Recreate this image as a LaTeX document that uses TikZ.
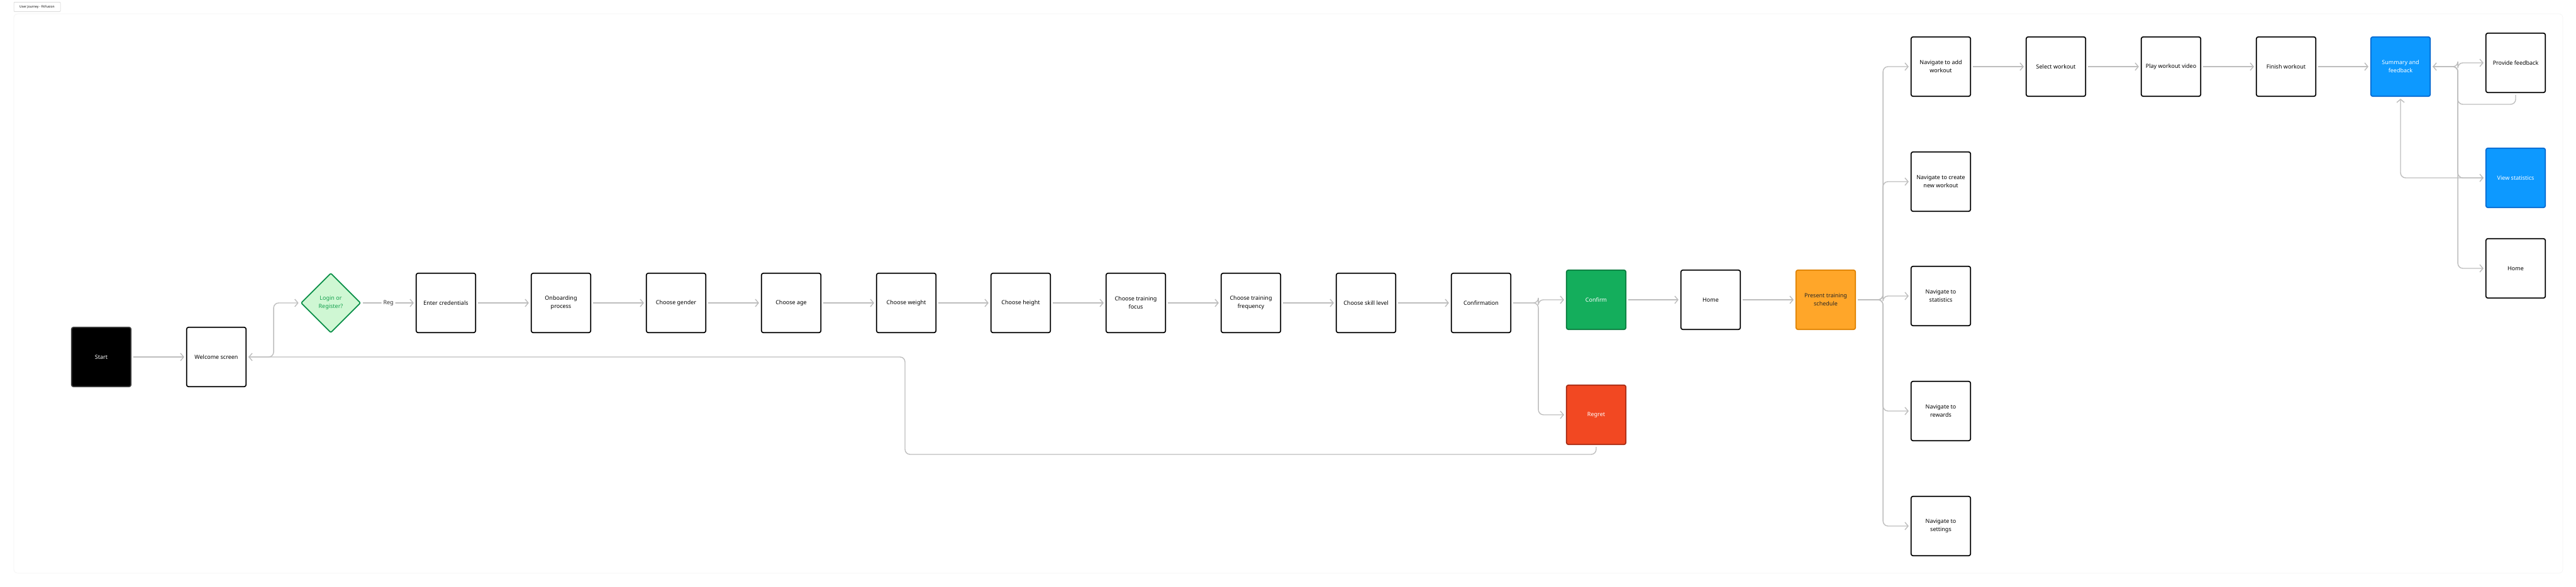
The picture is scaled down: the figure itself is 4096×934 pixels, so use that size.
\documentclass[tikz,border=0pt]{standalone}
\usepackage{fontspec}
\setmainfont{Noto Sans}
\usetikzlibrary{shapes.geometric,arrows.meta}

\definecolor{linegray}{HTML}{BDBDBD}
\definecolor{framegray}{HTML}{F2F2F2}
\definecolor{tagline}{HTML}{C8C8C8}
\definecolor{greenfill}{HTML}{14AE5C}
\definecolor{greenline}{HTML}{0B7A3E}
\definecolor{redfill}{HTML}{F24822}
\definecolor{redline}{HTML}{A52B14}
\definecolor{orangefill}{HTML}{FFA629}
\definecolor{orangeline}{HTML}{DD8000}
\definecolor{bluefill}{HTML}{0D99FF}
\definecolor{blueline}{HTML}{0768CF}
\definecolor{decfill}{HTML}{CFF7D3}
\definecolor{decline}{HTML}{0A8F48}
\definecolor{dectext}{HTML}{14A04E}

\begin{document}
\begin{tikzpicture}[x=1pt, y=-1pt,
    every node/.style={font=\fontsize{9}{13}\selectfont, align=center},
    box/.style={draw=black, fill=white, line width=1.7pt, rounded corners=3pt,
        minimum width=94.5pt, minimum height=94.5pt, inner sep=0pt},
    startbox/.style={box, fill=black, draw=black!75, text=white},
    greenbox/.style={box, fill=greenfill, draw=greenline, text=white},
    redbox/.style={box, fill=redfill, draw=redline, text=white},
    orangebox/.style={box, fill=orangefill, draw=orangeline, text=black!85},
    bluebox/.style={box, fill=bluefill, draw=blueline, text=white},
    decision/.style={diamond, draw=decline, fill=decfill, text=dectext, line width=1.7pt,
        rounded corners=2pt, minimum width=95pt, minimum height=95pt, inner sep=0pt, aspect=1},
    link/.style={draw=linegray, line width=1.4pt, rounded corners=8pt,
        -{Straight Barb[length=5pt,width=12pt]}, shorten >=3pt, shorten <=3pt},
    linktext/.style={fill=white, text=black!80, inner sep=3pt}]

    \useasboundingbox (0,0) rectangle (4096,934);
    \draw[framegray, line width=0.6pt, rounded corners=6pt] (22,22) rectangle (4075,912);
    \node[draw=tagline, line width=0.5pt, rounded corners=1pt, font=\fontsize{5}{6}\selectfont,
        minimum width=74pt, minimum height=15pt, inner sep=0pt] (TAG) at (59,11) {User Journey - FitFusion};

    \node[startbox] (START) at (161,568) {Start};
    \node[box] (WELCOME) at (344,568) {Welcome screen};
    \node[decision] (CHOICE) at (526,482) {Login or\\Register?};
    \node[box] (CREDS) at (709,482) {Enter credentials};
    \node[box] (ONBOARD) at (892,482) {Onboarding\\process};
    \node[box] (GENDER) at (1075,482) {Choose gender};
    \node[box] (AGE) at (1258,482) {Choose age};
    \node[box] (WEIGHT) at (1441,482) {Choose weight};
    \node[box] (HEIGHT) at (1623,482) {Choose height};
    \node[box] (FOCUS) at (1806,482) {Choose training\\focus};
    \node[box] (FREQ) at (1989,482) {Choose training\\frequency};
    \node[box] (SKILL) at (2172,482) {Choose skill level};
    \node[box] (CONFIRMATION) at (2355,482) {Confirmation};

    \node[greenbox] (CONFIRM) at (2538,477) {Confirm};
    \node[redbox] (REGRET) at (2538,660) {Regret};
    \node[box] (HOME) at (2720,477) {Home};
    \node[orangebox] (SCHEDULE) at (2903,477) {Present training\\schedule};

    \node[box] (ADDWK) at (3086,106) {Navigate to add\\workout};
    \node[box] (NEWWK) at (3086,289) {Navigate to create\\new workout};
    \node[box] (NAVSTATS) at (3086,471) {Navigate to\\statistics};
    \node[box] (REWARDS) at (3086,654) {Navigate to\\rewards};
    \node[box] (SETTINGS) at (3086,837) {Navigate to\\settings};

    \node[box] (SELECT) at (3269,106) {Select workout};
    \node[box] (PLAY) at (3452,106) {Play workout video};
    \node[box] (FINISH) at (3635,106) {Finish workout};
    \node[bluebox] (SUMMARY) at (3817,106) {Summary and\\feedback};

    \node[box] (FEEDBACK) at (4000,100) {Provide feedback};
    \node[bluebox] (STATS) at (4000,283) {View statistics};
    \node[box] (HOME2) at (4000,427) {Home};

    \coordinate (BACK) at (1439,723);
    \coordinate (FBTURN) at (3908,166);

    \draw[link] (START) -- (WELCOME);
    \draw[link] (WELCOME.east) -- ++(43,0) |- (CHOICE.west);
    \draw[link] (CHOICE.east) -- node[linktext] {Reg} (CREDS.west);
    \draw[link] (CREDS) -- (ONBOARD);
    \draw[link] (ONBOARD) -- (GENDER);
    \draw[link] (GENDER) -- (AGE);
    \draw[link] (AGE) -- (WEIGHT);
    \draw[link] (WEIGHT) -- (HEIGHT);
    \draw[link] (HEIGHT) -- (FOCUS);
    \draw[link] (FOCUS) -- (FREQ);
    \draw[link] (FREQ) -- (SKILL);
    \draw[link] (SKILL) -- (CONFIRMATION);

    \draw[link] (CONFIRMATION.east) -- ++(43,0) |- (CONFIRM.west);
    \draw[link] (CONFIRMATION.east) -- ++(43,0) |- (REGRET.west);
    \draw[link] (REGRET.south) |- (BACK) |- (WELCOME.east);
    \draw[link] (CONFIRM) -- (HOME);
    \draw[link] (HOME) -- (SCHEDULE);

    \draw[link] (SCHEDULE.east) -- ++(43,0) |- (ADDWK.west);
    \draw[link] (SCHEDULE.east) -- ++(43,0) |- (NEWWK.west);
    \draw[link] (SCHEDULE.east) -- ++(43,0) |- (NAVSTATS.west);
    \draw[link] (SCHEDULE.east) -- ++(43,0) |- (REWARDS.west);
    \draw[link] (SCHEDULE.east) -- ++(43,0) |- (SETTINGS.west);

    \draw[link] (ADDWK) -- (SELECT);
    \draw[link] (SELECT) -- (PLAY);
    \draw[link] (PLAY) -- (FINISH);
    \draw[link] (FINISH) -- (SUMMARY);

    \draw[link] (SUMMARY.east) -- ++(43,0) |- (FEEDBACK.west);
    \draw[link] (SUMMARY.east) -- ++(43,0) |- (STATS.west);
    \draw[link] (SUMMARY.east) -- ++(43,0) |- (HOME2.west);
    \draw[link] (FEEDBACK.south) |- (FBTURN) |- (SUMMARY.east);
    \draw[link] (STATS.west) -| (SUMMARY.south);
\end{tikzpicture}
\end{document}
